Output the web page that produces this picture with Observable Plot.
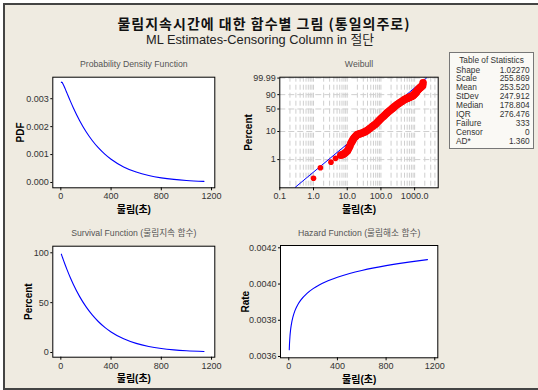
<!DOCTYPE html>
<html><head><meta charset="utf-8">
<script src="https://cdn.jsdelivr.net/npm/d3@7"></script>
<script src="https://cdn.jsdelivr.net/npm/@observablehq/plot@0.6"></script>
<style>
body{margin:0;background:#fff;}
#fig{position:relative;width:538px;height:390px;overflow:hidden;background:#fff;font-family:"Liberation Sans","Noto Sans CJK KR",sans-serif;}
#bg{position:absolute;left:3px;top:3px;width:540px;height:383px;background:#EFEBE1;border-left:2px solid #444;border-top:2px solid #444;border-bottom:2px solid #444;}
#title{position:absolute;left:0;top:16px;width:528px;height:14px;text-align:center;font-family:"Noto Sans CJK KR",sans-serif;font-weight:bold;font-size:14px;line-height:14px;letter-spacing:1px;color:#111;}
#subtitle{position:absolute;left:0;top:33.5px;width:520px;height:12px;text-align:center;font-size:12.8px;line-height:12px;color:#222;}
.panel{position:absolute;}
#table{position:absolute;left:449px;top:52px;width:85px;height:96.5px;box-sizing:border-box;border:1px solid #777;background:#FAF9F5;font-size:8.3px;color:#333;}
#table div{position:absolute;line-height:9px;white-space:nowrap;}
</style></head>
<body>
<div id="fig">
  <div id="bg"></div>
  <div id="title">물림지속시간에 대한 함수별 그림 (통일의주로)</div>
  <div id="subtitle">ML Estimates-Censoring Column in 절단</div>
  <div id="p1" class="panel" style="left:0;top:56px"></div>
  <div id="p2" class="panel" style="left:225px;top:56px"></div>
  <div id="p3" class="panel" style="left:0;top:222px"></div>
  <div id="p4" class="panel" style="left:225px;top:222px"></div>
  <div id="table"></div>
</div>
<script>
// ---- Data ----
const timeGrid = [4,6,10,14,20,35,50,75,100,150,200,250,300,350,400,500,600,700,800,900,1000,1140];
const pdfValues = [0.003586,0.003592,0.003581,0.003555,0.003504,0.003352,0.003190,0.002923,0.002669,0.002213,0.001827,0.001505,0.001237,0.001015,0.000832,0.000558,0.000373,0.000249,0.000166,0.000110,0.000073,0.000041];
const survivalValues = [98.59,97.87,96.44,95.01,92.89,87.75,82.84,75.20,68.21,56.04,45.97,37.66,30.83,25.22,20.62,13.75,9.16,6.09,4.04,2.68,1.78,1.00];
const hazardValues = [0.0036369,0.0036705,0.0037133,0.0037418,0.0037722,0.0038204,0.0038515,0.0038871,0.0039126,0.0039487,0.0039746,0.0039948,0.0040114,0.0040254,0.0040376,0.0040581,0.0040750,0.0040893,0.0041017,0.0041127,0.0041225,0.0041348];

// Weibull probability plot: isolated low points and dense band
const lowTimes = [1.0,1.6,3.3,4.5];
const lowPercents = [0.21,0.51,0.81,1.11];
const bandTimes = [6.4,7.0,7.7,8.3,9.0,10.1,10.7,11.3,12.0,12.7,13.4,14.2,15.0,15.9,17.0,18.0,19.0,20.1,22,24,26,28.3,32,35.6,40,44.6,50,56.2,63,70.5,77,84,91,99.3,108,118,129,140,152,166,181,197,215,235,255,277,302,330,360,391,427,465,507,551,585,620,655,690,735,780,825,871,910,950,990,1035,1080,1130,1180,1228,1285,1340,1400,1458,1520,1590,1660,1730,1780];
const bandPercents = [1.43,1.49,1.55,1.67,1.8,2.04,2.35,2.66,3.1,3.68,4.2,4.7,5.3,5.97,6.45,6.9,7.35,7.83,8.1,8.4,8.63,8.86,9.5,10.1,11.1,12.1,13.5,14.9,16.4,18.0,20,22,24,26.2,28.6,31,33.8,36.7,39.4,42,45,47.9,51,54,57.3,60.5,63.3,66,68.6,71.1,73.6,76,78.1,80.1,81,82,83,83.9,84.8,85.6,86.5,87.3,88.6,89.8,91,92.1,93.4,94.5,95.6,96.6,97.1,97.6,98,98.4,98.65,98.9,99.1,99.3,99.8];
const fitTimes = [0.29,2240];
const fitPercents = [0.1,99.99];

const linearTicks = [0,400,800,1200];
const pdfTicks = [0,0.001,0.002,0.003];
const survivalTicks = [0,50,100];
const hazardTicks = [0.0036,0.0038,0.0040,0.0042];
const weibullXTicks = [0.1,1,10,100,1000];
const weibullYTicks = [1,10,50,90,99.99];
const weibullYLabels = ["1","10","50","90","99.99"];

const statLabels = ["Shape","Scale","Mean","StDev","Median","IQR","Failure","Censor","AD*"];
const statValues = ["1.02270","255.869","253.520","247.912","178.804","276.476","333","0","1.360"];

const panelTitles = ["Probability Density Function","Weibull","Survival Function (물림지속 함수)","Hazard Function (물림해소 함수)"];
const xLabel = "물림(초)";

// ---- Helpers ----
const FONT = '"Liberation Sans","Noto Sans CJK KR",sans-serif';
const BLUE = "#0000ff";
const weib = p => Math.log(-Math.log(1 - p / 100));

function decorations(title, ylab, ydx) {
  return [
    Plot.text([title], {frameAnchor: "top", dy: -12.7, lineAnchor: "middle", textAnchor: "middle", fontSize: 8.7, fill: "#555"}),
    Plot.text([ylab], {frameAnchor: "left", dx: ydx, rotate: -90, textAnchor: "middle", lineAnchor: "middle", fontSize: 10, fontWeight: "bold", fill: "#000"}),
    Plot.text([xLabel], {frameAnchor: "bottom", dy: 21.7, textAnchor: "middle", lineAnchor: "middle", fontSize: 10, fontWeight: "bold", fill: "#000"})
  ];
}
const style = {background: "transparent", fontFamily: FONT, fontSize: "9px", color: "#333", overflow: "visible"};

function linePanel({el, width, height, margins, xDomain, yDomain, yTicks, yFormat, ys, title, ylab, ydx}) {
  const idx = d3.range(timeGrid.length);
  const chart = Plot.plot({
    width, height,
    marginLeft: margins[0], marginRight: margins[1], marginTop: margins[2], marginBottom: margins[3],
    style,
    x: {domain: xDomain},
    y: {domain: yDomain},
    marks: [
      Plot.frame({fill: "white", stroke: "none"}),
      Plot.line(idx, {x: i => timeGrid[i], y: i => ys[i], stroke: BLUE, strokeWidth: 1.1, curve: "monotone-x"}),
      Plot.frame({stroke: "#000", strokeWidth: 1}),
      Plot.axisX(linearTicks, {tickSize: 3, tickPadding: 2, tickFormat: d => String(d), label: null, stroke: "#000"}),
      Plot.axisY(yTicks, {tickSize: 2, tickPadding: 2, tickFormat: yFormat, label: null, stroke: "#000"}),
      ...decorations(title, ylab, ydx)
    ]
  });
  document.getElementById(el).appendChild(chart);
}

// PDF
linePanel({el: "p1", width: 225, height: 164, margins: [52.3, 10.7, 20.7, 32.7],
  xDomain: [-64, 1226], yDomain: [-0.00019, 0.00377], yTicks: pdfTicks, yFormat: d3.format(".3f"),
  ys: pdfValues, title: panelTitles[0], ylab: "PDF", ydx: -32.3});

// Survival
linePanel({el: "p3", width: 225, height: 168, margins: [52.3, 10.7, 23.7, 33.3],
  xDomain: [-64, 1226], yDomain: [-4.7, 106.6], yTicks: survivalTicks, yFormat: d => String(d),
  ys: survivalValues, title: panelTitles[2], ylab: "Percent", ydx: -24});

// Hazard
linePanel({el: "p4", width: 225, height: 168, margins: [55, 12.7, 23, 32.7],
  xDomain: [-68, 1225], yDomain: [0.0035928, 0.0042127], yTicks: hazardTicks, yFormat: d3.format(".4f"),
  ys: hazardValues, title: panelTitles[3], ylab: "Rate", ydx: -35});

// Weibull probability plot
{
  const mult = [1,2,3,4,5,6,7,8,9];
  const gridX = [0.1,1,10,100,1000].flatMap(d => mult.map(m => d * m)).filter(v => v > 0.1 && v < 5000);
  const labelMap = new Map(weibullYTicks.map((p, i) => [weib(p), weibullYLabels[i]]));
  const low = d3.range(lowTimes.length);
  const band = d3.range(bandTimes.length);
  const fit = d3.range(fitTimes.length);
  const chart = Plot.plot({
    width: 225, height: 164,
    marginLeft: 54.3, marginRight: 12.3, marginTop: 20.7, marginBottom: 32.7,
    style,
    x: {type: "log", domain: [0.1, 5000]},
    y: {domain: [weib(0.095), weib(99.995)]},
    marks: [
      Plot.frame({fill: "white", stroke: "none"}),
      Plot.ruleX(gridX, {stroke: "#cfcfcf", strokeWidth: 1, strokeDasharray: "5,3"}),
      Plot.ruleY(weibullYTicks.map(weib), {stroke: "#cfcfcf", strokeWidth: 1, strokeDasharray: "6,3"}),
      Plot.line(fit, {x: i => fitTimes[i], y: i => weib(fitPercents[i]), stroke: BLUE, strokeWidth: 1}),
      Plot.dot(low, {x: i => lowTimes[i], y: i => weib(lowPercents[i]), r: 2.8, fill: "#ff0000", stroke: "none"}),
      Plot.dot(band, {x: i => bandTimes[i], y: i => weib(bandPercents[i]), r: 3.8, fill: "#ff0000", stroke: "none"}),
      Plot.frame({stroke: "#000", strokeWidth: 1}),
      Plot.axisX(weibullXTicks, {tickSize: 3, tickPadding: 2, tickFormat: d3.format(".1f"), label: null, stroke: "#000"}),
      Plot.axisY(weibullYTicks.map(weib), {tickSize: 2, tickPadding: 2, tickFormat: d => labelMap.get(d), label: null, stroke: "#000"}),
      ...decorations(panelTitles[1], "Percent", -31)
    ]
  });
  document.getElementById("p2").appendChild(chart);
}

// Table of statistics
{
  const t = document.getElementById("table");
  const head = document.createElement("div");
  head.textContent = "Table of Statistics";
  head.style.left = "0"; head.style.width = "83px"; head.style.textAlign = "center"; head.style.top = "2.5px";
  t.appendChild(head);
  statLabels.forEach((lab, i) => {
    const top = (12.5 + i * 8.95) + "px";
    const a = document.createElement("div");
    a.textContent = lab; a.style.left = "6px"; a.style.top = top;
    const b = document.createElement("div");
    b.textContent = statValues[i]; b.style.right = "3.3px"; b.style.top = top; b.style.textAlign = "right";
    t.appendChild(a); t.appendChild(b);
  });
}
</script>
</body></html>
